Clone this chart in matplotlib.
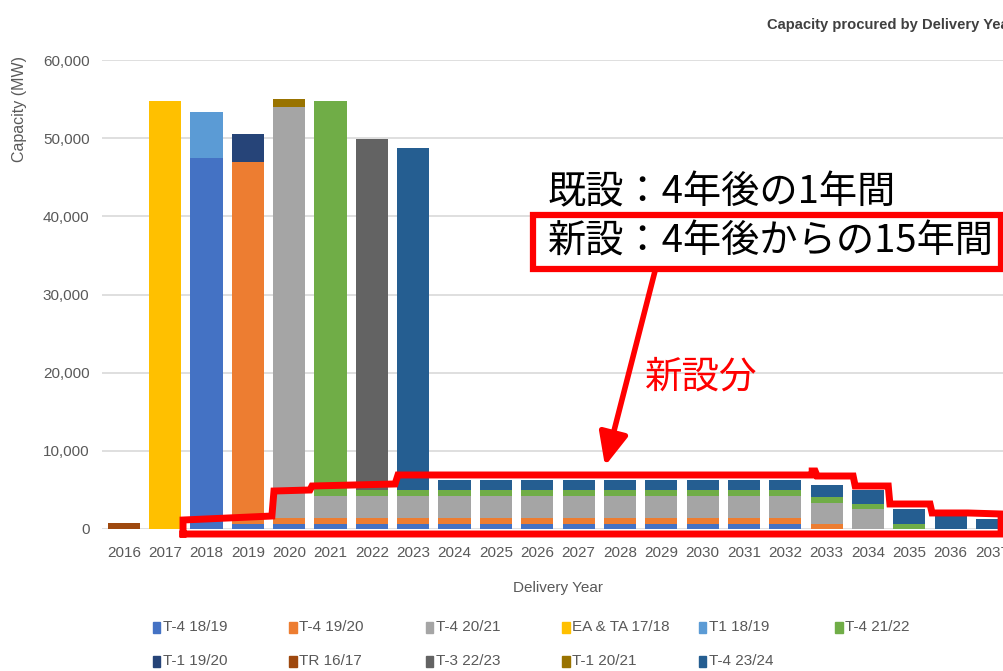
import matplotlib.pyplot as plt
import numpy as np
from matplotlib.patches import Rectangle
from matplotlib.ticker import FuncFormatter

plt.rcParams['font.family'] = ['Liberation Sans', 'DejaVu Sans']

years = [2016, 2017, 2018, 2019, 2020, 2021, 2022, 2023, 2024, 2025, 2026,
         2027, 2028, 2029, 2030, 2031, 2032, 2033, 2034, 2035, 2036, 2037]

# legend order (row by row), also the stacking order
names = ['T-4 18/19', 'T-4 19/20', 'T-4 20/21', 'EA & TA 17/18', 'T1 18/19', 'T-4 21/22',
         'T-1 19/20', 'TR 16/17', 'T-3 22/23', 'T-1 20/21', 'T-4 23/24']
colors = ['#4472C4', '#ED7D31', '#A5A5A5', '#FFC000', '#5B9BD5', '#70AD47',
          '#264478', '#9E480E', '#636363', '#997300', '#255E91']

t4_1819 = [0, 0, 47400, 700, 700, 700, 700, 700, 700, 700, 700,
           700, 700, 700, 700, 700, 700, 0, 0, 0, 0, 0]
t4_1920 = [0, 0, 0, 46200, 750, 750, 750, 750, 750, 750, 750,
           750, 750, 750, 750, 750, 750, 700, 0, 0, 0, 0]
t4_2021 = [0, 0, 0, 0, 52500, 2800, 2800, 2800, 2800, 2800, 2800,
           2800, 2800, 2800, 2800, 2800, 2800, 2600, 2600, 0, 0, 0]
ea_ta_1718 = [0, 54700, 0, 0, 0, 0, 0, 0, 0, 0, 0,
              0, 0, 0, 0, 0, 0, 0, 0, 0, 0, 0]
t1_1819 = [0, 0, 6000, 0, 0, 0, 0, 0, 0, 0, 0,
           0, 0, 0, 0, 0, 0, 0, 0, 0, 0, 0]
t4_2122 = [0, 0, 0, 0, 0, 50500, 700, 700, 700, 700, 700,
           700, 700, 700, 700, 700, 700, 800, 600, 700, 0, 0]
t1_1920 = [0, 0, 0, 3600, 0, 0, 0, 0, 0, 0, 0,
           0, 0, 0, 0, 0, 0, 0, 0, 0, 0, 0]
tr_1617 = [750, 0, 0, 0, 0, 0, 0, 0, 0, 0, 0,
           0, 0, 0, 0, 0, 0, 0, 0, 0, 0, 0]
t3_2223 = [0, 0, 0, 0, 0, 0, 44900, 0, 0, 0, 0,
           0, 0, 0, 0, 0, 0, 0, 0, 0, 0, 0]
t1_2021 = [0, 0, 0, 0, 1100, 0, 0, 0, 0, 0, 0,
           0, 0, 0, 0, 0, 0, 0, 0, 0, 0, 0]
t4_2324 = [0, 0, 0, 0, 0, 0, 0, 43800, 1300, 1300, 1300,
           1300, 1300, 1300, 1300, 1300, 1300, 1500, 1800, 1800, 1700, 1300]

series = [t4_1819, t4_1920, t4_2021, ea_ta_1718, t1_1819, t4_2122,
          t1_1920, tr_1617, t3_2223, t1_2021, t4_2324]

# red outline of the new-build part (year, MW)
outline_x = [2017.43, 2017.43, 2019.58, 2019.63, 2020.50, 2020.55, 2022.56, 2022.63,
             2032.65, 2032.65, 2032.72, 2032.77, 2033.64, 2033.69, 2034.49, 2034.53,
             2035.50, 2035.55, 2036.42, 2037.22, 2037.22, 2017.43]
outline_y = [-640, 1150, 1660, 4860, 4990, 5500, 5760, 6910,
             6910, 7420, 7420, 6780, 6780, 5500, 5500, 3200,
             3200, 2050, 2050, 1920, -640, -640]

W, H = 1004, 671
fig = plt.figure(figsize=(W / 100, H / 100), dpi=100)
ax = fig.add_axes([102 / W, 142 / H, 902 / W, 469 / H])

bottom = np.zeros(len(years))
for name, vals, col in zip(names, series, colors):
    ax.bar(years, vals, 0.78, bottom=bottom, color=col, label=name, zorder=2)
    bottom += np.array(vals)

ax.plot(outline_x, outline_y, color='#FF0000', lw=5, clip_on=False, zorder=5,
        solid_joinstyle='miter')

ax.set_xlim(2015.47, 2037.29)
ax.set_ylim(0, 60000)
ax.set_xticks(years)
ax.set_yticks(range(0, 60001, 10000))
ax.yaxis.set_major_formatter(FuncFormatter(lambda v, p: f'{int(v):,}'))
ax.tick_params(length=0, colors='#595959', labelsize=11)
ax.tick_params(axis='x', pad=12)
ax.tick_params(axis='y', pad=9)
ax.yaxis.grid(True, color='#d9d9d9', lw=1.2)
ax.set_axisbelow(True)
for s in ax.spines.values():
    s.set_visible(False)

fig.text(767 / W, 1 - 25 / H, 'Capacity procured by Delivery Year', ha='left', va='center',
         fontsize=10.6, fontweight='bold', color='#404040')
fig.text(20 / W, 1 - 109 / H, 'Capacity (MW)', rotation=90, ha='center', va='center',
         fontsize=11.5, color='#595959')
fig.text(558 / W, 1 - 588 / H, 'Delivery Year', ha='center', va='center',
         fontsize=11, color='#595959')

# overlay in pixel coordinates
ov = fig.add_axes([0, 0, 1, 1])
ov.set_xlim(0, W)
ov.set_ylim(H, 0)
ov.axis('off')
ov.patch.set_visible(False)

for i, (name, col) in enumerate(zip(names, colors)):
    x0 = 153 + 136.5 * (i % 6)
    y0 = 627 + 34 * (i // 6)
    ov.add_patch(Rectangle((x0, y0 - 5.5), 7.5, 11, color=col))
    ov.text(x0 + 10, y0, name, ha='left', va='center', fontsize=11, color='#595959')

jp = ['Noto Sans CJK JP', 'DejaVu Sans']
ov.text(548, 193, '既設：4年後の1年間', ha='left', va='center', fontsize=27.5,
        family=jp, color='black')
ov.add_patch(Rectangle((533, 215), 468, 54, fc='white', ec='#FF0000', lw=4.5))
ov.text(548, 242, '新設：4年後からの15年間', ha='left', va='center', fontsize=27.5,
        family=jp, color='black')
ov.text(645, 377, '新設分', ha='left', va='center', fontsize=27, family=jp, color='#FF0000')
ov.annotate('', xy=(605, 466), xytext=(655, 271),
            arrowprops=dict(arrowstyle='-|>,head_width=0.4,head_length=0.9',
                            color='#FF0000', lw=4, shrinkA=0, shrinkB=0, mutation_scale=22))

fig.savefig('out.png', dpi=100)
